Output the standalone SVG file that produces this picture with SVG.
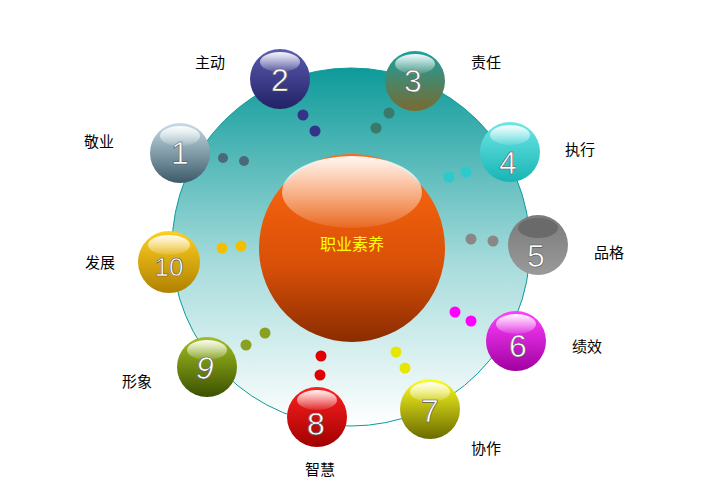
<svg xmlns="http://www.w3.org/2000/svg" width="706" height="500" viewBox="0 0 706 500">
<defs>
<linearGradient id="bg" x1="0" y1="0" x2="0" y2="1"><stop offset="0" stop-color="#0e9a9a"/><stop offset="0.55" stop-color="#a8dcdc"/><stop offset="1" stop-color="#ffffff"/></linearGradient>
<linearGradient id="core" x1="0" y1="0" x2="0" y2="1"><stop offset="0" stop-color="#ff6a10"/><stop offset="0.6" stop-color="#d84f08"/><stop offset="1" stop-color="#8a2c00"/></linearGradient>
<linearGradient id="hl" x1="0" y1="0" x2="0" y2="1"><stop offset="0" stop-color="#fff" stop-opacity="0.95"/><stop offset="1" stop-color="#fff" stop-opacity="0.1"/></linearGradient>
<linearGradient id="g1" x1="0" y1="0" x2="0" y2="1"><stop offset="0" stop-color="#c8dde6"/><stop offset="1" stop-color="#3c5a6a"/></linearGradient>
<linearGradient id="g2" x1="0" y1="0" x2="0" y2="1"><stop offset="0" stop-color="#5a5ab0"/><stop offset="1" stop-color="#222266"/></linearGradient>
<linearGradient id="g3" x1="0" y1="0" x2="0" y2="1"><stop offset="0" stop-color="#1aa0a0"/><stop offset="1" stop-color="#7a6a30"/></linearGradient>
<linearGradient id="g4" x1="0" y1="0" x2="0" y2="1"><stop offset="0" stop-color="#6ee6e6"/><stop offset="1" stop-color="#18b4b4"/></linearGradient>
<linearGradient id="g5" x1="0" y1="0" x2="0" y2="1"><stop offset="0" stop-color="#7a7a7a"/><stop offset="1" stop-color="#9a9a9a"/></linearGradient>
<linearGradient id="g6" x1="0" y1="0" x2="0" y2="1"><stop offset="0" stop-color="#ff40ff"/><stop offset="1" stop-color="#a000a0"/></linearGradient>
<linearGradient id="g7" x1="0" y1="0" x2="0" y2="1"><stop offset="0" stop-color="#ffff20"/><stop offset="1" stop-color="#6a6a00"/></linearGradient>
<linearGradient id="g8" x1="0" y1="0" x2="0" y2="1"><stop offset="0" stop-color="#ff2020"/><stop offset="1" stop-color="#a00000"/></linearGradient>
<linearGradient id="g9" x1="0" y1="0" x2="0" y2="1"><stop offset="0" stop-color="#a0c020"/><stop offset="1" stop-color="#3c5000"/></linearGradient>
<linearGradient id="g10" x1="0" y1="0" x2="0" y2="1"><stop offset="0" stop-color="#ffd020"/><stop offset="1" stop-color="#b08000"/></linearGradient>
</defs>
<style>
.n{font-family:"Liberation Sans",Arial,sans-serif;font-size:32px;fill:#fff;text-anchor:middle;stroke:#555;stroke-width:0.6}
.l{font-family:"Noto Sans CJK SC",sans-serif;font-size:15px;fill:#000;text-anchor:middle}
.h{fill:url(#hl)}
</style>
<circle cx="351" cy="247" r="179" fill="url(#bg)" stroke="#0e9a9a" stroke-width="1"/>
<g id="core">
<ellipse cx="352" cy="248" rx="93" ry="94" fill="url(#core)"/>
<ellipse cx="352" cy="192" rx="70" ry="36" class="h"/>
<text x="352" y="250" style="font-family:'Noto Sans CJK SC',sans-serif;font-size:16px;fill:#ffff00;text-anchor:middle">职业素养</text>
</g>
<g id="connectors">
<circle cx="223" cy="158" r="5" fill="#4a6a7a"/><circle cx="244" cy="161" r="5" fill="#4a6a7a"/>
<circle cx="303" cy="115" r="5.5" fill="#333388"/><circle cx="315" cy="131" r="5.5" fill="#333388"/>
<circle cx="389" cy="113" r="5.5" fill="#3a7a6a"/><circle cx="376" cy="128" r="5.5" fill="#3a7a6a"/>
<circle cx="466" cy="172" r="5.5" fill="#2ccaca"/><circle cx="449" cy="177" r="5.5" fill="#2ccaca"/>
<circle cx="471" cy="239" r="5.5" fill="#888"/><circle cx="493" cy="241" r="5.5" fill="#888"/>
<circle cx="455" cy="312" r="5.5" fill="#ff00ff"/><circle cx="471" cy="321" r="5.5" fill="#ff00ff"/>
<circle cx="396" cy="352" r="5.5" fill="#e6e600"/><circle cx="405" cy="368" r="5.5" fill="#e6e600"/>
<circle cx="321" cy="356" r="5.5" fill="#e00000"/><circle cx="320" cy="375" r="5.5" fill="#e00000"/>
<circle cx="265" cy="333" r="5.5" fill="#8aa020"/><circle cx="246" cy="345" r="5.5" fill="#8aa020"/>
<circle cx="222" cy="248" r="5.5" fill="#f0c000"/><circle cx="241" cy="246" r="5.5" fill="#f0c000"/>
</g>
<g id="n1"><circle cx="180" cy="153" r="30" fill="url(#g1)"/><ellipse cx="180" cy="136" rx="20" ry="10" class="h"/><text x="180" y="164" class="n">1</text><text x="99" y="147" class="l">敬业</text></g>
<g id="n2"><circle cx="280" cy="79" r="30" fill="url(#g2)"/><ellipse cx="280" cy="62" rx="20" ry="10" class="h"/><text x="280" y="91" class="n">2</text><text x="210" y="68" class="l">主动</text></g>
<g id="n3"><circle cx="415" cy="81" r="30" fill="url(#g3)"/><ellipse cx="415" cy="64" rx="20" ry="10" class="h"/><text x="413" y="92" class="n">3</text><text x="486" y="68" class="l">责任</text></g>
<g id="n4"><circle cx="510" cy="152" r="30" fill="url(#g4)"/><ellipse cx="510" cy="135" rx="20" ry="10" class="h"/><text x="508" y="174" class="n">4</text><text x="580" y="155" class="l">执行</text></g>
<g id="n5"><circle cx="538" cy="245" r="30" fill="url(#g5)"/><ellipse cx="538" cy="228" rx="20" ry="10" fill="#6a6a6a"/><text x="536" y="267" class="n">5</text><text x="609" y="258" class="l">品格</text></g>
<g id="n6"><circle cx="516" cy="341" r="30" fill="url(#g6)"/><ellipse cx="516" cy="324" rx="20" ry="10" class="h"/><text x="518" y="357" class="n">6</text><text x="587" y="352" class="l">绩效</text></g>
<g id="n7"><circle cx="430" cy="409" r="30" fill="url(#g7)"/><ellipse cx="430" cy="392" rx="20" ry="10" class="h"/><text x="430" y="422" class="n">7</text><text x="486" y="454" class="l">协作</text></g>
<g id="n8"><circle cx="317" cy="417" r="30" fill="url(#g8)"/><ellipse cx="317" cy="400" rx="20" ry="10" class="h"/><text x="316" y="435" class="n">8</text><text x="320" y="475" class="l">智慧</text></g>
<g id="n9"><circle cx="207" cy="367" r="30" fill="url(#g9)"/><ellipse cx="207" cy="350" rx="20" ry="10" class="h"/><text x="205" y="379" class="n" font-style="italic">9</text><text x="137" y="387" class="l">形象</text></g>
<g id="n10"><circle cx="169" cy="262" r="31" fill="url(#g10)"/><ellipse cx="169" cy="245" rx="21" ry="10" class="h"/><text x="169" y="276" class="n" style="font-size:26px">10</text><text x="100" y="268" class="l">发展</text></g>
</svg>
